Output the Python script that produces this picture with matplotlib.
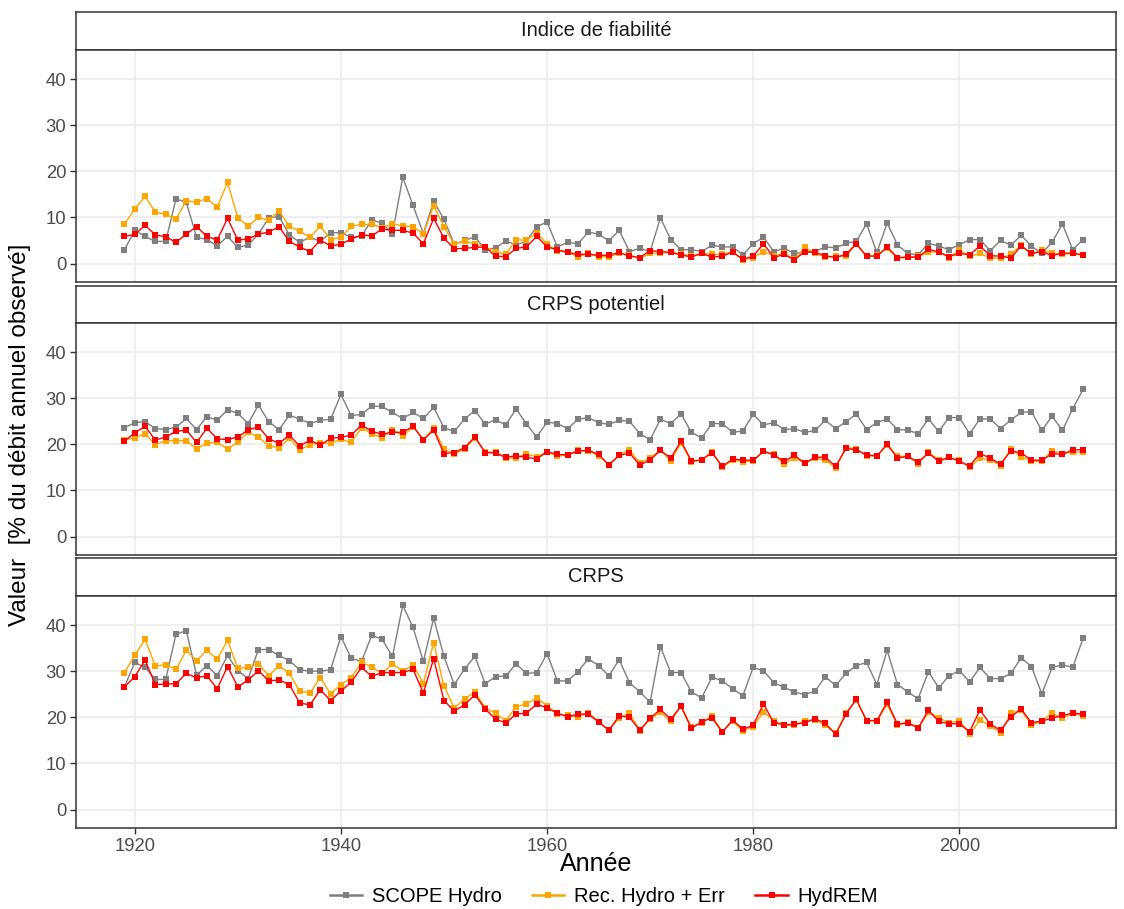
import matplotlib
matplotlib.use('Agg')
import matplotlib.pyplot as plt
from matplotlib.lines import Line2D
import numpy as np

plt.rcParams['font.family'] = ['Liberation Sans', 'DejaVu Sans']

annees = np.arange(1919, 2013)

# Indice de fiabilite
fiab_scope = [3.0, 7.2, 5.9, 4.8, 4.8, 14.0, 13.3, 5.7, 5.2, 3.8, 5.9, 3.5, 4.0, 6.4, 9.9, 10.2, 6.2, 4.6, 5.7, 4.8,
              6.7, 6.7, 5.7, 5.9, 9.5, 8.7, 6.4, 18.7, 12.6, 6.5, 13.5, 9.6, 4.2, 5.0, 5.8, 3.0, 3.4, 4.9, 4.0, 4.9,
              8.0, 9.0, 3.6, 4.6, 4.3, 6.8, 6.4, 4.9, 7.2, 2.6, 3.3, 2.6, 9.9, 5.2, 3.0, 3.0, 2.6, 4.0, 3.6, 3.6,
              1.9, 4.3, 5.7, 2.6, 3.3, 2.2, 2.4, 2.6, 3.6, 3.4, 4.4, 4.8, 8.6, 2.4, 8.8, 4.0, 2.2, 1.9, 4.4, 3.8,
              3.0, 4.1, 5.2, 5.2, 2.8, 5.0, 4.0, 6.1, 3.8, 2.2, 4.6, 8.6, 3.0, 5.2]
fiab_rec = [8.5, 11.8, 14.6, 11.1, 10.7, 9.6, 13.6, 13.3, 14.1, 12.2, 17.6, 9.9, 8.1, 10.0, 9.4, 11.4, 8.1, 7.0, 5.7, 8.1,
            5.2, 5.7, 8.1, 8.5, 8.5, 7.8, 8.6, 8.2, 8.0, 6.4, 12.5, 8.0, 4.2, 4.9, 4.2, 3.6, 2.6, 2.0, 5.2, 5.0,
            6.7, 4.2, 2.8, 2.5, 1.5, 2.2, 1.5, 1.5, 2.2, 1.9, 1.1, 2.2, 2.2, 2.5, 2.0, 1.7, 2.2, 2.0, 2.0, 2.6,
            0.8, 1.3, 2.6, 1.7, 2.2, 0.9, 3.5, 2.2, 1.4, 1.6, 1.6, 4.2, 1.6, 1.8, 3.3, 1.1, 1.4, 1.6, 2.4, 2.6,
            1.3, 2.9, 1.6, 2.2, 1.2, 1.1, 2.0, 4.0, 2.0, 2.9, 2.3, 2.0, 2.2, 1.8]
fiab_hydrem = [5.9, 6.3, 8.3, 6.2, 5.8, 4.6, 6.4, 8.0, 5.9, 5.1, 9.8, 5.1, 5.3, 6.4, 6.8, 8.0, 4.8, 3.6, 2.6, 5.1,
               3.8, 4.2, 5.3, 6.2, 6.0, 7.5, 7.2, 7.2, 6.6, 4.3, 9.8, 5.5, 3.2, 3.3, 3.5, 3.6, 1.6, 1.5, 3.3, 3.6,
               5.9, 3.6, 3.0, 2.4, 2.0, 2.0, 1.8, 1.8, 2.4, 1.6, 1.3, 2.8, 2.6, 2.4, 1.9, 1.4, 2.2, 1.4, 1.6, 2.5,
               0.9, 1.6, 4.3, 1.3, 2.0, 0.8, 2.6, 2.4, 1.7, 1.3, 2.0, 4.3, 1.6, 1.6, 3.6, 1.3, 1.4, 1.4, 3.1, 2.5,
               1.5, 2.2, 1.9, 3.8, 1.7, 1.6, 1.2, 3.8, 2.2, 2.6, 1.7, 2.3, 2.2, 1.9]

# CRPS potentiel
pot_scope = [23.6, 24.7, 24.9, 23.4, 23.2, 23.7, 25.6, 23.2, 26.0, 25.2, 27.5, 26.7, 24.5, 28.5, 24.9, 23.2, 26.3, 25.5,
             24.5, 25.2, 25.4, 30.8, 26.2, 26.5, 28.3, 28.2, 26.9, 25.6, 26.9, 25.6, 28.0, 23.6, 22.8, 25.5, 27.3,
             24.4, 25.3, 24.2, 27.7, 24.4, 21.6, 24.8, 24.5, 23.4, 25.4, 25.8, 24.7, 24.3, 25.2, 25.0, 22.3, 21.0,
             25.4, 24.5, 26.6, 22.6, 21.4, 24.5, 24.5, 22.6, 22.9, 26.5, 24.2, 24.7, 23.2, 23.4, 22.6, 23.0, 25.2,
             23.4, 24.9, 26.6, 23.2, 24.7, 25.5, 23.2, 23.1, 22.3, 25.5, 22.8, 25.8, 25.8, 22.3, 25.5, 25.5, 23.4,
             25.3, 26.9, 27.1, 23.0, 26.1, 23.0, 27.7, 31.9]
pot_rec = [21.0, 21.4, 22.3, 19.9, 20.8, 20.8, 20.8, 19.0, 20.3, 20.4, 19.0, 20.5, 22.6, 21.6, 19.6, 19.3, 21.3, 18.8,
           19.9, 20.3, 20.2, 21.1, 20.4, 23.6, 22.3, 21.4, 23.2, 21.8, 23.8, 21.0, 23.5, 19.0, 17.9, 19.0, 21.4,
           18.3, 18.3, 17.0, 17.0, 18.0, 17.2, 18.4, 17.4, 17.7, 18.7, 18.6, 17.5, 15.6, 17.7, 18.8, 15.9, 17.0,
           18.8, 16.4, 20.3, 16.2, 16.6, 18.4, 15.0, 16.6, 16.2, 16.4, 18.5, 17.8, 15.7, 17.1, 15.9, 17.0, 16.5,
           14.9, 19.3, 19.0, 17.5, 17.4, 19.9, 17.4, 17.4, 15.8, 18.3, 16.6, 17.2, 16.5, 15.0, 17.0, 16.6, 15.4,
           19.0, 17.3, 16.3, 16.3, 18.6, 18.0, 18.3, 18.3]
pot_hydrem = [20.7, 22.5, 23.9, 20.9, 21.6, 22.8, 23.1, 20.4, 23.5, 21.2, 21.0, 21.6, 23.1, 23.8, 21.2, 20.2, 22.0, 19.6,
              20.9, 19.8, 21.3, 21.5, 22.0, 24.2, 22.8, 22.2, 22.6, 22.6, 23.9, 21.0, 23.1, 18.0, 18.2, 19.3, 21.6,
              18.2, 18.1, 17.2, 17.5, 17.2, 16.8, 18.4, 17.8, 17.7, 18.5, 18.7, 17.8, 15.5, 17.6, 18.1, 15.5, 16.6,
              18.7, 17.0, 20.7, 16.4, 16.6, 18.2, 15.2, 16.8, 16.6, 16.5, 18.5, 17.7, 16.3, 17.6, 15.9, 17.2, 17.2,
              15.2, 19.1, 18.8, 17.7, 17.5, 20.0, 17.0, 17.4, 16.1, 18.1, 16.3, 17.2, 16.3, 15.3, 18.0, 17.0, 15.7,
              18.6, 18.1, 16.6, 16.5, 18.0, 17.8, 18.8, 18.8]

# CRPS
crps_scope = [26.6, 31.9, 30.8, 28.2, 28.2, 38.0, 38.8, 29.1, 31.2, 29.0, 33.4, 30.1, 28.4, 34.7, 34.7, 33.4, 32.3, 30.3,
              30.0, 30.0, 30.3, 37.5, 32.8, 32.1, 37.8, 36.9, 33.2, 44.3, 39.5, 32.1, 41.5, 33.2, 27.1, 30.5, 33.2,
              27.3, 28.8, 29.0, 31.6, 29.5, 29.7, 33.8, 27.9, 27.9, 29.9, 32.7, 31.2, 29.0, 32.5, 27.5, 25.5, 23.3,
              35.3, 29.7, 29.7, 25.5, 24.2, 28.7, 27.9, 26.2, 24.7, 30.8, 30.1, 27.5, 26.5, 25.5, 24.9, 25.7, 28.8,
              26.9, 29.5, 31.2, 31.9, 27.1, 34.5, 27.1, 25.5, 24.0, 29.9, 26.4, 29.0, 30.1, 27.7, 30.8, 28.4, 28.4,
              29.5, 32.9, 31.0, 25.1, 30.8, 31.4, 30.8, 37.1]
crps_rec = [29.7, 33.4, 36.9, 31.1, 31.4, 30.4, 34.5, 32.3, 34.5, 32.6, 36.7, 30.6, 30.8, 31.6, 29.0, 31.2, 29.5, 25.7,
            25.3, 28.6, 25.1, 27.1, 28.6, 31.9, 30.9, 29.5, 31.6, 30.0, 31.4, 27.3, 36.2, 26.8, 22.0, 24.0, 25.5,
            22.0, 20.9, 19.3, 22.3, 22.9, 24.2, 22.5, 20.7, 20.4, 20.1, 21.0, 19.0, 17.2, 19.9, 20.9, 17.1, 19.6,
            21.1, 19.1, 22.5, 17.9, 18.8, 20.3, 16.9, 19.1, 17.1, 18.0, 21.2, 19.3, 18.3, 18.3, 19.3, 19.4, 18.3,
            16.5, 20.9, 23.8, 19.2, 19.2, 22.8, 18.3, 19.0, 17.6, 21.1, 19.9, 18.8, 19.3, 16.4, 19.4, 18.2, 16.6,
            20.9, 21.6, 18.3, 19.2, 20.9, 19.8, 20.9, 20.3]
crps_hydrem = [26.6, 28.8, 32.4, 27.1, 27.2, 27.3, 29.5, 28.6, 29.0, 26.2, 31.0, 26.6, 28.1, 30.1, 27.9, 28.1, 27.1, 23.1,
               22.7, 26.0, 23.6, 25.7, 27.6, 30.8, 28.9, 29.7, 29.7, 29.7, 30.4, 25.3, 32.7, 23.6, 21.4, 22.7, 24.9,
               21.8, 19.6, 18.8, 20.7, 20.9, 22.9, 22.0, 20.9, 20.1, 20.7, 20.7, 19.0, 17.2, 20.3, 20.0, 17.2, 19.8,
               21.7, 19.6, 22.4, 17.6, 19.0, 19.9, 16.8, 19.4, 17.4, 18.3, 22.9, 18.8, 18.4, 18.5, 18.8, 19.7, 18.7,
               16.3, 20.7, 23.9, 19.3, 19.3, 23.3, 18.5, 18.8, 17.7, 21.5, 19.1, 18.6, 18.6, 16.9, 21.6, 18.5, 17.2,
               20.1, 21.8, 18.8, 19.2, 19.8, 20.4, 20.9, 20.7]

panels = ["Indice de fiabilité", "CRPS potentiel", "CRPS"]
series_names = ["SCOPE Hydro", "Rec. Hydro + Err", "HydREM"]
colors = ["#7F7F7F", "#FFA500", "#FF0000"]
data = [[fiab_scope, fiab_rec, fiab_hydrem],
        [pot_scope, pot_rec, pot_hydrem],
        [crps_scope, crps_rec, crps_hydrem]]

W, H = 1124, 909
fig = plt.figure(figsize=(W / 100, H / 100), dpi=100)


def box(x0, y0, x1, y1):
    return [x0 / W, 1 - y1 / H, (x1 - x0) / W, (y1 - y0) / H]


x0, x1 = 76, 1116
rows = [(12, 50, 282), (286, 323, 555), (558, 596, 828)]
border = "#333333"

for i, (s0, p0, p1) in enumerate(rows):
    # strip
    st = fig.add_axes(box(x0, s0, x1, p0))
    st.set_xticks([])
    st.set_yticks([])
    for sp in st.spines.values():
        sp.set_color(border)
        sp.set_linewidth(1.1)
    st.text(0.5, 0.5, panels[i], ha='center', va='center', fontsize=14.5, color='#1A1A1A',
            transform=st.transAxes)

    ax = fig.add_axes(box(x0, p0, x1, p1))
    for vals, c in zip(data[i], colors):
        ax.plot(annees, vals, color=c, lw=1.0, marker='s', ms=3.8, mew=0, zorder=3)
    ax.set_xlim(1914.3, 2015.2)
    ax.set_ylim(-4.0, 46.3)
    ax.set_yticks([0, 10, 20, 30, 40])
    ax.set_xticks([1920, 1940, 1960, 1980, 2000])
    ax.grid(True, color='#EBEBEB', lw=1.1, zorder=0)
    ax.set_axisbelow(True)
    for sp in ax.spines.values():
        sp.set_color(border)
        sp.set_linewidth(1.1)
    ax.tick_params(colors='#333333', labelcolor='#4D4D4D', labelsize=13.3, length=4, width=1.0, pad=3)
    if i < 2:
        ax.tick_params(axis='x', length=0, labelbottom=False)
    else:
        ax.set_xlabel("Année", fontsize=18, labelpad=-2)

fig.text(20 / W, 1 - 435 / H, "Valeur  [% du débit annuel observé]", rotation=90,
         ha='center', va='center', fontsize=17.5)

handles = [Line2D([0], [0], color=c, lw=1.8, marker='s', ms=5, mew=0) for c in colors]
fig.legend(handles, series_names, loc='center', bbox_to_anchor=(604 / W, 1 - 897 / H), ncol=3,
           frameon=False, fontsize=14.5, handlelength=1.6, columnspacing=1.5, handletextpad=0.5)

fig.savefig('out.png', dpi=100)
